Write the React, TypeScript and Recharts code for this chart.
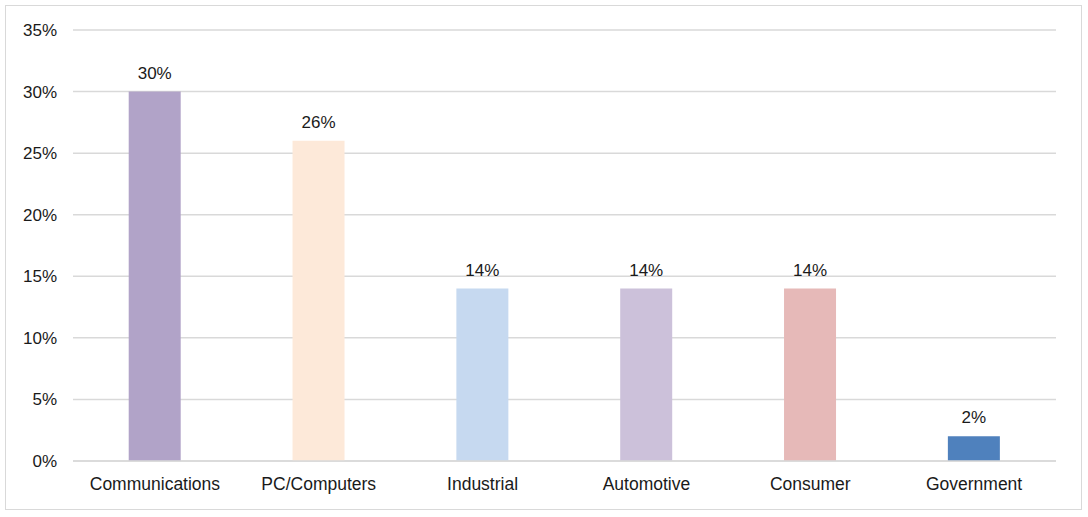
import React from 'react';
import { BarChart, Bar, XAxis, YAxis, CartesianGrid, LabelList, Cell } from 'recharts';

const categories = ['Communications', 'PC/Computers', 'Industrial', 'Automotive', 'Consumer', 'Government'];
const shares = [30, 26, 14, 14, 14, 2];
const barColors = ['#b1a3c8', '#fde9d9', '#c6d9f0', '#ccc1da', '#e6b9b8', '#4f81bd'];
const yTicks = [0, 5, 10, 15, 20, 25, 30, 35];

const data = categories.map((name, i) => ({ name, value: shares[i] }));

const App: React.FC = () => {
  const fam = 'Liberation Sans, Arial, sans-serif';
  return (
    <div style={{ position: 'absolute', top: 0, left: 0, width: 1088, height: 517, background: '#fff' }}>
      <div style={{ position: 'absolute', left: 5, top: 5, width: 1075, height: 503, border: '1px solid #d9d9d9' }} />
      <BarChart
        width={1088}
        height={517}
        data={data}
        margin={{ top: 30, right: 32, left: 0, bottom: 26 }}
        barCategoryGap="34%"
      >
        <CartesianGrid vertical={false} stroke="#d9d9d9" strokeWidth={1.5} />
        <XAxis
          dataKey="name"
          height={30}
          tickLine={false}
          axisLine={{ stroke: '#d9d9d9', strokeWidth: 1.5 }}
          tickMargin={11}
          tick={{ fontSize: 17.5, fill: '#1a1a1a', fontFamily: fam }}
          interval={0}
        />
        <YAxis
          width={73}
          domain={[0, 35]}
          ticks={yTicks}
          tickLine={false}
          axisLine={false}
          tickMargin={10}
          tick={{ fontSize: 17, fill: '#1a1a1a', fontFamily: fam }}
          tickFormatter={(v) => `${v}%`}
        />
        <Bar dataKey="value" isAnimationActive={false}>
          {data.map((d, i) => (
            <Cell key={d.name} fill={barColors[i]} />
          ))}
          <LabelList
            dataKey="value"
            position="top"
            offset={13}
            formatter={(v: any) => `${v}%`}
            style={{ fontSize: 17, fill: '#1a1a1a', fontFamily: fam }}
          />
        </Bar>
      </BarChart>
    </div>
  );
};

export default App;
